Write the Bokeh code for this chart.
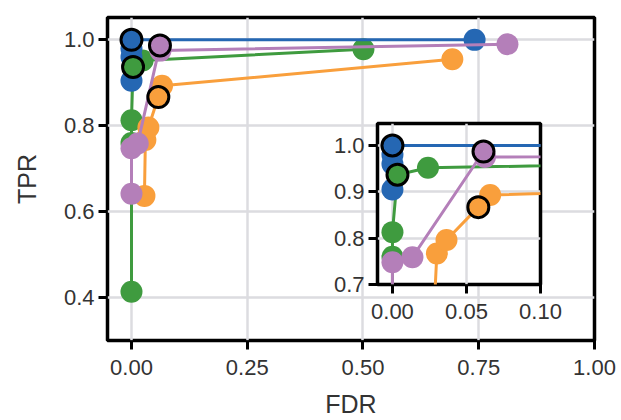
from bokeh.plotting import figure
from bokeh.layouts import column
from bokeh.models import FixedTicker, Range1d, NumeralTickFormatter
from bokeh.embed import file_html
from bokeh.resources import INLINE

# ---- data (FDR, TPR) per method; highlighted point index ----
blue_fdr = [0.0, 0.0, 0.0, 0.0, 0.741]
blue_tpr = [0.905, 0.96, 0.98, 1.0, 1.0]
green_fdr = [0.0, 0.0, 0.0, 0.0034, 0.024, 0.501]
green_tpr = [0.414, 0.76, 0.813, 0.937, 0.952, 0.978]
orange_fdr = [0.028, 0.030, 0.0365, 0.058, 0.066, 0.693]
orange_tpr = [0.637, 0.767, 0.796, 0.867, 0.893, 0.955]
purple_fdr = [0.0, 0.0, 0.0135, 0.0615, 0.0625, 0.812]
purple_tpr = [0.642, 0.748, 0.759, 0.987, 0.975, 0.99]
highlight = {"blue": 3, "green": 3, "orange": 3, "purple": 3}

main_xticks = [0.0, 0.25, 0.5, 0.75, 1.0]
main_yticks = [0.4, 0.6, 0.8, 1.0]
inset_xticks = [0.0, 0.05, 0.10]
inset_yticks = [0.7, 0.8, 0.9, 1.0]
x_label = "FDR"
y_label = "TPR"

colors = {"blue": "#2567b3", "green": "#3f9b3f", "orange": "#f99f3c", "purple": "#b47fb9"}
series = [
    ("green", green_fdr, green_tpr),
    ("orange", orange_fdr, orange_tpr),
    ("blue", blue_fdr, blue_tpr),
    ("purple", purple_fdr, purple_tpr),
]

FONT = "Liberation Sans"
TXT = "#333333"
GRID = "#dcdce0"


def style(p, xticks, yticks, xfmt, yfmt):
    p.outline_line_color = "black"
    p.outline_line_width = 3.5
    for ax in (p.xaxis[0], p.yaxis[0]):
        ax.axis_line_color = None
        ax.major_tick_in = 0
        ax.major_tick_out = 9
        ax.major_tick_line_width = 3
        ax.major_tick_line_color = "black"
        ax.minor_tick_line_color = None
        ax.major_label_text_font = FONT
        ax.major_label_text_font_size = "22px"
        ax.major_label_text_color = TXT
        ax.axis_label_text_font = FONT
        ax.axis_label_text_font_size = "25px"
        ax.axis_label_text_font_style = "normal"
        ax.axis_label_text_color = TXT
    p.xaxis[0].ticker = FixedTicker(ticks=xticks)
    p.yaxis[0].ticker = FixedTicker(ticks=yticks)
    p.xaxis[0].formatter = NumeralTickFormatter(format=xfmt)
    p.yaxis[0].formatter = NumeralTickFormatter(format=yfmt)
    p.xaxis[0].major_label_standoff = 10
    p.yaxis[0].major_label_standoff = 4
    p.xgrid.grid_line_color = GRID
    p.ygrid.grid_line_color = GRID
    p.xgrid.grid_line_width = 2.5
    p.ygrid.grid_line_width = 2.5
    p.xgrid.ticker = FixedTicker(ticks=xticks)
    p.ygrid.ticker = FixedTicker(ticks=yticks)


def draw(p):
    for name, xs, ys in series:
        p.line(xs, ys, line_color=colors[name], line_width=3)
        p.scatter(xs, ys, size=22, fill_color=colors[name], line_color=None)
    for name, xs, ys in series:
        i = highlight[name]
        p.scatter([xs[i]], [ys[i]], size=21, fill_color=colors[name],
                  line_color="black", line_width=3)


main = figure(width=616, height=420, output_backend="svg", toolbar_location=None,
              x_range=Range1d(-0.0518, 1.0), y_range=Range1d(0.3006, 1.052),
              min_border_left=107, min_border_right=22, min_border_top=17,
              min_border_bottom=78, x_axis_label=x_label, y_axis_label=y_label,
              background_fill_color="white", border_fill_color="white")
style(main, main_xticks, main_yticks, "0.00", "0.0")
main.xaxis[0].axis_label_standoff = 12
main.yaxis[0].axis_label_standoff = 20
draw(main)

# inset: borders match the main figure's (the column aligns them)
inset = figure(width=292, height=213, output_backend="svg", toolbar_location=None,
               x_range=Range1d(-0.0101, 0.10), y_range=Range1d(0.70, 1.0475),
               min_border_left=107, min_border_right=22, min_border_top=8,
               min_border_bottom=44,
               background_fill_color="white", border_fill_alpha=0.0,
               border_fill_color=None)
style(inset, inset_xticks, inset_yticks, "0.00", "0.0")
inset.xaxis[0].axis_label = None
inset.yaxis[0].axis_label = None
draw(inset)

main.margin = (0, 0, 0, 0)
inset.margin = (-305, 0, 0, 270)

layout = column(main, inset, spacing=0)
open("out.html", "w").write(file_html(layout, INLINE))
